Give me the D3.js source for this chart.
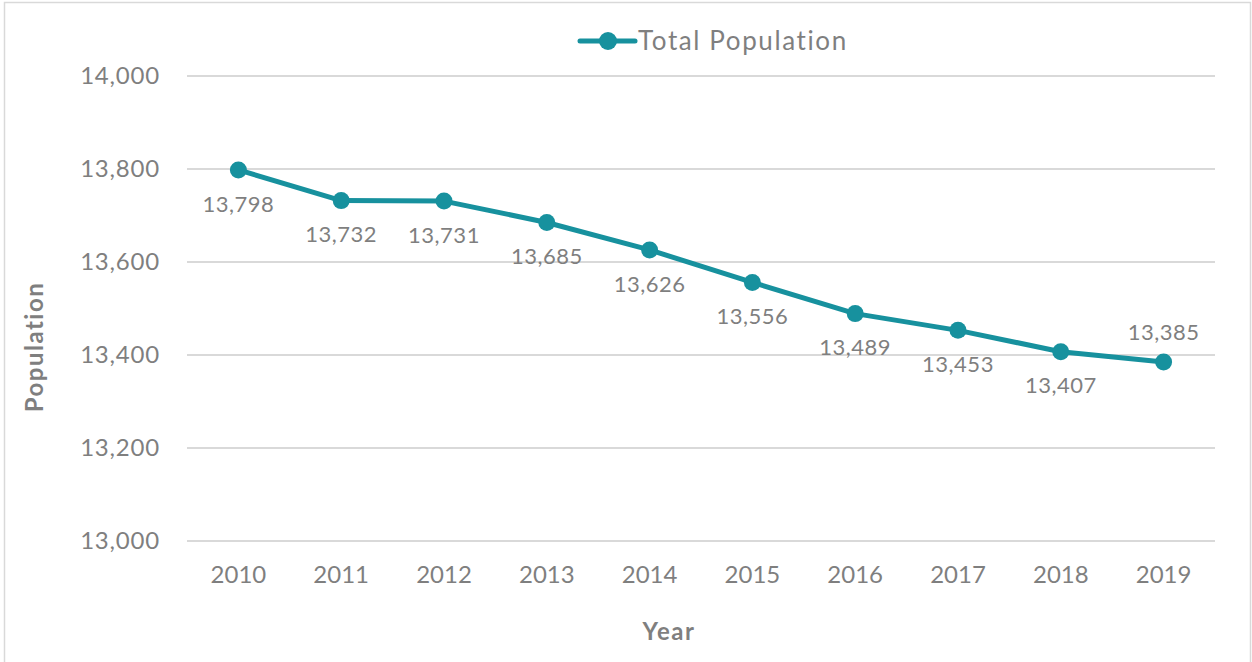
<!DOCTYPE html>
<html lang="en">
<head>
    <meta charset="UTF-8">
    <title>Total Population</title>
    <script src="https://d3js.org/d3.v7.min.js"></script>
    <style>
        body { margin: 0; background: #fff; }
        text { font-family: Lato, "Open Sans", sans-serif; fill: #7f7f7f; }
    </style>
</head>
<body>
    <svg width="1252" height="662"></svg>
    <script>
        const years = ["2010","2011","2012","2013","2014","2015","2016","2017","2018","2019"]
        const population = [13798, 13732, 13731, 13685, 13626, 13556, 13489, 13453, 13407, 13385]
        const labelPos = ["below","below","below","below","below","below","below","below","below","above"]
        const yTicks = [13000, 13200, 13400, 13600, 13800, 14000]

        const width = 1252, height = 662
        const margin = {top: 76, right: 37, bottom: 121, left: 187}
        const teal = "#17919e"

        const svg = d3.select("svg")

        // outer chart border
        svg.append("rect")
            .attr("x", 4.5).attr("y", 2.5)
            .attr("width", 1246).attr("height", 670)
            .attr("fill", "none").attr("stroke", "#d9d9d9").attr("stroke-width", 1.5)

        const x = d3.scaleBand()
            .domain(years)
            .range([margin.left, width - margin.right])

        const y = d3.scaleLinear()
            .domain([13000, 14000])
            .range([height - margin.bottom, margin.top])

        // gridlines
        svg.append("g")
            .selectAll("line")
            .data(yTicks)
            .join("line")
            .attr("x1", margin.left).attr("x2", width - margin.right)
            .attr("y1", d => y(d)).attr("y2", d => y(d))
            .attr("stroke", "#d9d9d9").attr("stroke-width", 2)

        // y axis labels
        const yAxis = svg.append("g")
            .attr("transform", `translate(${margin.left - 24},0)`)
            .call(d3.axisLeft(y).tickValues(yTicks).tickFormat(d3.format(",")).tickSize(0))
        yAxis.select(".domain").remove()
        yAxis.selectAll("text").attr("font-size", 24).attr("fill", "#7f7f7f")
            .style("font-family", "Lato, sans-serif").style("letter-spacing", "0.8px")

        // x axis labels
        const xAxis = svg.append("g")
            .attr("transform", `translate(0,${height - margin.bottom + 22})`)
            .call(d3.axisBottom(x).tickSize(0))
        xAxis.select(".domain").remove()
        xAxis.selectAll("text").attr("font-size", 24).attr("fill", "#7f7f7f")
            .style("font-family", "Lato, sans-serif")

        // axis titles
        svg.append("text")
            .attr("x", 669)
            .attr("y", 640)
            .attr("text-anchor", "middle")
            .attr("font-size", 24).attr("font-weight", "bold")
            .style("letter-spacing", "1.5px")
            .text("Year")

        svg.append("text")
            .attr("transform", "translate(43,347) rotate(-90)")
            .attr("text-anchor", "middle")
            .attr("font-size", 24).attr("font-weight", "bold")
            .style("letter-spacing", "1.5px")
            .text("Population")

        // line
        const cx = d => x(d.year) + x.bandwidth() / 2
        const pts = years.map((yr, i) => ({year: yr, value: population[i], pos: labelPos[i]}))

        svg.append("path")
            .datum(pts)
            .attr("fill", "none")
            .attr("stroke", teal)
            .attr("stroke-width", 5)
            .attr("stroke-linejoin", "round")
            .attr("d", d3.line().x(cx).y(d => y(d.value)))

        svg.append("g")
            .selectAll("circle")
            .data(pts)
            .join("circle")
            .attr("cx", cx)
            .attr("cy", d => y(d.value))
            .attr("r", 8.5)
            .attr("fill", teal)

        // data labels
        svg.append("g")
            .selectAll("text")
            .data(pts)
            .join("text")
            .attr("x", cx)
            .attr("y", d => y(d.value) + (d.pos === "above" ? -30 : 34))
            .attr("dy", "0.35em")
            .attr("text-anchor", "middle")
            .attr("font-size", 22)
            .style("letter-spacing", "0.5px")
            .text(d => d3.format(",")(d.value))

        // legend
        const legend = svg.append("g").attr("transform", "translate(580,41)")
        legend.append("line")
            .attr("x1", 0).attr("x2", 55)
            .attr("stroke", teal).attr("stroke-width", 5).attr("stroke-linecap", "round")
        legend.append("circle").attr("cx", 28).attr("r", 9).attr("fill", teal)
        legend.append("text")
            .attr("x", 58).attr("dy", "0.35em")
            .attr("font-size", 26)
            .style("letter-spacing", "1.6px")
            .text("Total Population")
    </script>
</body>
</html>
